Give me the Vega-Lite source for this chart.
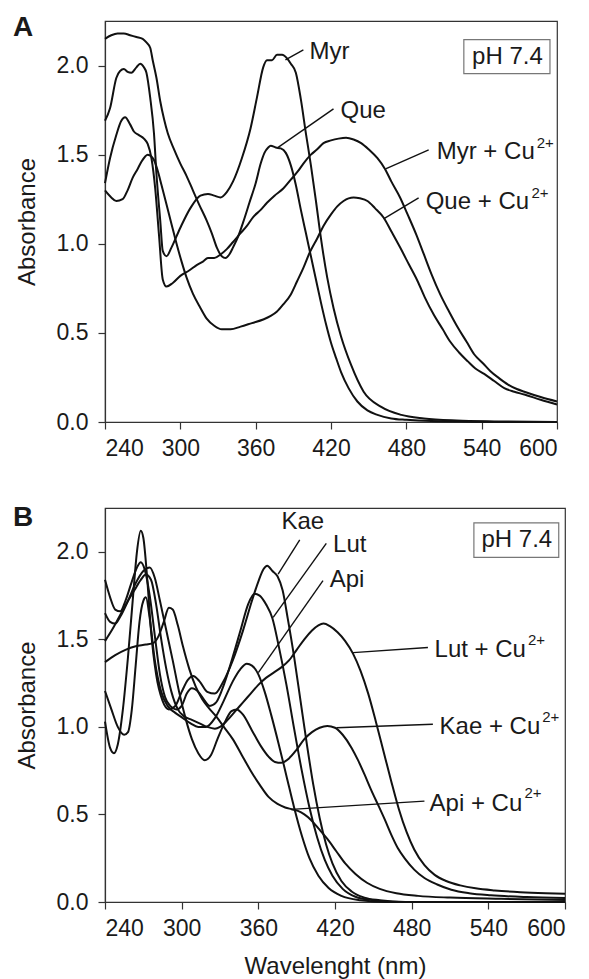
{
  "$schema": "https://vega.github.io/schema/vega-lite/v6.json",
  "padding": {"left": 12, "top": 13, "right": 10, "bottom": 0},
  "bounds": "flush",
  "spacing": 86,
  "config": {
    "font": "Liberation Sans",
    "view": {"stroke": "#333", "strokeWidth": 1.2},
    "axis": {"grid": false, "domainColor": "#333", "tickColor": "#333", "labelColor": "#1a1a1a", "titleColor": "#1a1a1a", "labelFont": "Liberation Sans", "titleFont": "Liberation Sans", "labelFontSize": 23, "titleFontSize": 24, "titleFontWeight": "normal", "tickSize": 7, "domainWidth": 1.2, "tickWidth": 1.2},
    "text": {"font": "Liberation Sans", "fontSize": 24, "color": "#1a1a1a"}
  },
  "datasets": {
    "curvesA": [
      {"s":"Que","nm":240,"abs":2.15},{"s":"Que","nm":245,"abs":2.17},{"s":"Que","nm":250,"abs":2.18},{"s":"Que","nm":255,"abs":2.18},{"s":"Que","nm":260,"abs":2.17},{"s":"Que","nm":265,"abs":2.16},{"s":"Que","nm":270,"abs":2.15},{"s":"Que","nm":273,"abs":2.13},{"s":"Que","nm":276,"abs":2.1},{"s":"Que","nm":278,"abs":2.03},{"s":"Que","nm":281,"abs":1.93},{"s":"Que","nm":284,"abs":1.8},{"s":"Que","nm":287,"abs":1.7},{"s":"Que","nm":290,"abs":1.62},{"s":"Que","nm":295,"abs":1.53},{"s":"Que","nm":300,"abs":1.45},{"s":"Que","nm":305,"abs":1.38},{"s":"Que","nm":310,"abs":1.3},{"s":"Que","nm":315,"abs":1.22},{"s":"Que","nm":321,"abs":1.13},{"s":"Que","nm":325,"abs":1.06},{"s":"Que","nm":329,"abs":0.98},{"s":"Que","nm":333,"abs":0.93},{"s":"Que","nm":336,"abs":0.92},{"s":"Que","nm":339,"abs":0.94},{"s":"Que","nm":342,"abs":0.98},{"s":"Que","nm":346,"abs":1.04},{"s":"Que","nm":350,"abs":1.12},{"s":"Que","nm":355,"abs":1.23},{"s":"Que","nm":360,"abs":1.34},{"s":"Que","nm":364,"abs":1.45},{"s":"Que","nm":367,"abs":1.51},{"s":"Que","nm":370,"abs":1.54},{"s":"Que","nm":372,"abs":1.55},{"s":"Que","nm":376,"abs":1.54},{"s":"Que","nm":380,"abs":1.535},{"s":"Que","nm":384,"abs":1.51},{"s":"Que","nm":388,"abs":1.44},{"s":"Que","nm":392,"abs":1.33},{"s":"Que","nm":396,"abs":1.19},{"s":"Que","nm":400,"abs":1.06},{"s":"Que","nm":404,"abs":0.93},{"s":"Que","nm":408,"abs":0.8},{"s":"Que","nm":412,"abs":0.67},{"s":"Que","nm":416,"abs":0.55},{"s":"Que","nm":420,"abs":0.445},{"s":"Que","nm":424,"abs":0.36},{"s":"Que","nm":428,"abs":0.28},{"s":"Que","nm":434,"abs":0.19},{"s":"Que","nm":441,"abs":0.115},{"s":"Que","nm":449,"abs":0.065},{"s":"Que","nm":457,"abs":0.04},{"s":"Que","nm":468,"abs":0.02},{"s":"Que","nm":480,"abs":0.012},{"s":"Que","nm":500,"abs":0.005},{"s":"Que","nm":530,"abs":0.002},{"s":"Que","nm":560,"abs":0.0},{"s":"Que","nm":600,"abs":0.0},
      {"s":"Myr","nm":240,"abs":1.69},{"s":"Myr","nm":244,"abs":1.76},{"s":"Myr","nm":249,"abs":1.93},{"s":"Myr","nm":252,"abs":1.97},{"s":"Myr","nm":255,"abs":1.98},{"s":"Myr","nm":258,"abs":1.965},{"s":"Myr","nm":261,"abs":1.96},{"s":"Myr","nm":265,"abs":1.99},{"s":"Myr","nm":268,"abs":2.01},{"s":"Myr","nm":271,"abs":1.99},{"s":"Myr","nm":273,"abs":1.96},{"s":"Myr","nm":276,"abs":1.82},{"s":"Myr","nm":279,"abs":1.62},{"s":"Myr","nm":281,"abs":1.39},{"s":"Myr","nm":284,"abs":1.13},{"s":"Myr","nm":286,"abs":0.96},{"s":"Myr","nm":289,"abs":0.93},{"s":"Myr","nm":293,"abs":0.98},{"s":"Myr","nm":300,"abs":1.09},{"s":"Myr","nm":308,"abs":1.2},{"s":"Myr","nm":316,"abs":1.27},{"s":"Myr","nm":322,"abs":1.28},{"s":"Myr","nm":327,"abs":1.27},{"s":"Myr","nm":332,"abs":1.26},{"s":"Myr","nm":337,"abs":1.29},{"s":"Myr","nm":342,"abs":1.35},{"s":"Myr","nm":349,"abs":1.48},{"s":"Myr","nm":356,"abs":1.65},{"s":"Myr","nm":361,"abs":1.82},{"s":"Myr","nm":366,"abs":1.99},{"s":"Myr","nm":369,"abs":2.03},{"s":"Myr","nm":373,"abs":2.03},{"s":"Myr","nm":377,"abs":2.06},{"s":"Myr","nm":381,"abs":2.06},{"s":"Myr","nm":385,"abs":2.04},{"s":"Myr","nm":388,"abs":2.01},{"s":"Myr","nm":392,"abs":1.96},{"s":"Myr","nm":396,"abs":1.81},{"s":"Myr","nm":400,"abs":1.62},{"s":"Myr","nm":404,"abs":1.44},{"s":"Myr","nm":408,"abs":1.24},{"s":"Myr","nm":412,"abs":1.03},{"s":"Myr","nm":417,"abs":0.81},{"s":"Myr","nm":422,"abs":0.64},{"s":"Myr","nm":428,"abs":0.48},{"s":"Myr","nm":436,"abs":0.32},{"s":"Myr","nm":446,"abs":0.17},{"s":"Myr","nm":460,"abs":0.085},{"s":"Myr","nm":476,"abs":0.04},{"s":"Myr","nm":494,"abs":0.02},{"s":"Myr","nm":520,"abs":0.008},{"s":"Myr","nm":550,"abs":0.003},{"s":"Myr","nm":600,"abs":0.0},
      {"s":"MyrCu","nm":240,"abs":1.34},{"s":"MyrCu","nm":244,"abs":1.48},{"s":"MyrCu","nm":249,"abs":1.61},{"s":"MyrCu","nm":253,"abs":1.69},{"s":"MyrCu","nm":256,"abs":1.71},{"s":"MyrCu","nm":260,"abs":1.67},{"s":"MyrCu","nm":263,"abs":1.63},{"s":"MyrCu","nm":267,"abs":1.61},{"s":"MyrCu","nm":271,"abs":1.59},{"s":"MyrCu","nm":274,"abs":1.56},{"s":"MyrCu","nm":277,"abs":1.48},{"s":"MyrCu","nm":280,"abs":1.31},{"s":"MyrCu","nm":283,"abs":1.05},{"s":"MyrCu","nm":286,"abs":0.8},{"s":"MyrCu","nm":289,"abs":0.76},{"s":"MyrCu","nm":294,"abs":0.78},{"s":"MyrCu","nm":300,"abs":0.82},{"s":"MyrCu","nm":307,"abs":0.85},{"s":"MyrCu","nm":313,"abs":0.88},{"s":"MyrCu","nm":318,"abs":0.9},{"s":"MyrCu","nm":322,"abs":0.92},{"s":"MyrCu","nm":327,"abs":0.92},{"s":"MyrCu","nm":332,"abs":0.94},{"s":"MyrCu","nm":337,"abs":0.97},{"s":"MyrCu","nm":342,"abs":1.01},{"s":"MyrCu","nm":348,"abs":1.06},{"s":"MyrCu","nm":353,"abs":1.1},{"s":"MyrCu","nm":358,"abs":1.15},{"s":"MyrCu","nm":364,"abs":1.19},{"s":"MyrCu","nm":369,"abs":1.23},{"s":"MyrCu","nm":375,"abs":1.27},{"s":"MyrCu","nm":382,"abs":1.31},{"s":"MyrCu","nm":388,"abs":1.36},{"s":"MyrCu","nm":394,"abs":1.41},{"s":"MyrCu","nm":398,"abs":1.45},{"s":"MyrCu","nm":404,"abs":1.5},{"s":"MyrCu","nm":409,"abs":1.53},{"s":"MyrCu","nm":414,"abs":1.565},{"s":"MyrCu","nm":420,"abs":1.58},{"s":"MyrCu","nm":426,"abs":1.59},{"s":"MyrCu","nm":432,"abs":1.595},{"s":"MyrCu","nm":438,"abs":1.585},{"s":"MyrCu","nm":444,"abs":1.565},{"s":"MyrCu","nm":450,"abs":1.53},{"s":"MyrCu","nm":457,"abs":1.48},{"s":"MyrCu","nm":463,"abs":1.42},{"s":"MyrCu","nm":468,"abs":1.35},{"s":"MyrCu","nm":475,"abs":1.26},{"s":"MyrCu","nm":481,"abs":1.165},{"s":"MyrCu","nm":488,"abs":1.05},{"s":"MyrCu","nm":494,"abs":0.94},{"s":"MyrCu","nm":500,"abs":0.83},{"s":"MyrCu","nm":507,"abs":0.716},{"s":"MyrCu","nm":514,"abs":0.62},{"s":"MyrCu","nm":521,"abs":0.53},{"s":"MyrCu","nm":528,"abs":0.45},{"s":"MyrCu","nm":534,"abs":0.38},{"s":"MyrCu","nm":541,"abs":0.33},{"s":"MyrCu","nm":547,"abs":0.285},{"s":"MyrCu","nm":554,"abs":0.245},{"s":"MyrCu","nm":561,"abs":0.21},{"s":"MyrCu","nm":568,"abs":0.185},{"s":"MyrCu","nm":574,"abs":0.17},{"s":"MyrCu","nm":587,"abs":0.14},{"s":"MyrCu","nm":600,"abs":0.115},
      {"s":"QueCu","nm":240,"abs":1.3},{"s":"QueCu","nm":245,"abs":1.26},{"s":"QueCu","nm":249,"abs":1.24},{"s":"QueCu","nm":254,"abs":1.25},{"s":"QueCu","nm":258,"abs":1.3},{"s":"QueCu","nm":262,"abs":1.37},{"s":"QueCu","nm":266,"abs":1.42},{"s":"QueCu","nm":269,"abs":1.46},{"s":"QueCu","nm":272,"abs":1.49},{"s":"QueCu","nm":274,"abs":1.5},{"s":"QueCu","nm":277,"abs":1.49},{"s":"QueCu","nm":279,"abs":1.47},{"s":"QueCu","nm":282,"abs":1.41},{"s":"QueCu","nm":285,"abs":1.33},{"s":"QueCu","nm":289,"abs":1.22},{"s":"QueCu","nm":293,"abs":1.11},{"s":"QueCu","nm":297,"abs":1.0},{"s":"QueCu","nm":301,"abs":0.9},{"s":"QueCu","nm":305,"abs":0.81},{"s":"QueCu","nm":310,"abs":0.72},{"s":"QueCu","nm":316,"abs":0.64},{"s":"QueCu","nm":321,"abs":0.58},{"s":"QueCu","nm":327,"abs":0.54},{"s":"QueCu","nm":333,"abs":0.52},{"s":"QueCu","nm":340,"abs":0.52},{"s":"QueCu","nm":348,"abs":0.535},{"s":"QueCu","nm":357,"abs":0.555},{"s":"QueCu","nm":366,"abs":0.575},{"s":"QueCu","nm":372,"abs":0.595},{"s":"QueCu","nm":377,"abs":0.62},{"s":"QueCu","nm":382,"abs":0.66},{"s":"QueCu","nm":388,"abs":0.716},{"s":"QueCu","nm":393,"abs":0.79},{"s":"QueCu","nm":398,"abs":0.865},{"s":"QueCu","nm":403,"abs":0.95},{"s":"QueCu","nm":409,"abs":1.03},{"s":"QueCu","nm":414,"abs":1.1},{"s":"QueCu","nm":420,"abs":1.165},{"s":"QueCu","nm":425,"abs":1.21},{"s":"QueCu","nm":430,"abs":1.24},{"s":"QueCu","nm":434,"abs":1.255},{"s":"QueCu","nm":438,"abs":1.26},{"s":"QueCu","nm":443,"abs":1.255},{"s":"QueCu","nm":449,"abs":1.24},{"s":"QueCu","nm":455,"abs":1.2},{"s":"QueCu","nm":462,"abs":1.146},{"s":"QueCu","nm":468,"abs":1.07},{"s":"QueCu","nm":475,"abs":0.98},{"s":"QueCu","nm":482,"abs":0.885},{"s":"QueCu","nm":489,"abs":0.79},{"s":"QueCu","nm":495,"abs":0.695},{"s":"QueCu","nm":502,"abs":0.6},{"s":"QueCu","nm":509,"abs":0.52},{"s":"QueCu","nm":515,"abs":0.45},{"s":"QueCu","nm":522,"abs":0.39},{"s":"QueCu","nm":529,"abs":0.34},{"s":"QueCu","nm":535,"abs":0.3},{"s":"QueCu","nm":542,"abs":0.27},{"s":"QueCu","nm":550,"abs":0.23},{"s":"QueCu","nm":558,"abs":0.19},{"s":"QueCu","nm":566,"abs":0.17},{"s":"QueCu","nm":574,"abs":0.154},{"s":"QueCu","nm":587,"abs":0.125},{"s":"QueCu","nm":600,"abs":0.098}
    ],
    "curvesB": [
      {"s":"Kae","nm":240,"abs":1.03},{"s":"Kae","nm":244,"abs":0.88},{"s":"Kae","nm":247,"abs":0.85},{"s":"Kae","nm":250,"abs":0.9},{"s":"Kae","nm":254,"abs":1.1},{"s":"Kae","nm":258,"abs":1.4},{"s":"Kae","nm":262,"abs":1.75},{"s":"Kae","nm":265,"abs":2.0},{"s":"Kae","nm":268,"abs":2.12},{"s":"Kae","nm":270,"abs":2.08},{"s":"Kae","nm":273,"abs":1.85},{"s":"Kae","nm":276,"abs":1.55},{"s":"Kae","nm":280,"abs":1.3},{"s":"Kae","nm":285,"abs":1.15},{"s":"Kae","nm":290,"abs":1.1},{"s":"Kae","nm":295,"abs":1.12},{"s":"Kae","nm":300,"abs":1.2},{"s":"Kae","nm":305,"abs":1.27},{"s":"Kae","nm":309,"abs":1.29},{"s":"Kae","nm":314,"abs":1.26},{"s":"Kae","nm":320,"abs":1.2},{"s":"Kae","nm":326,"abs":1.19},{"s":"Kae","nm":332,"abs":1.25},{"s":"Kae","nm":340,"abs":1.38},{"s":"Kae","nm":348,"abs":1.55},{"s":"Kae","nm":355,"abs":1.72},{"s":"Kae","nm":360,"abs":1.83},{"s":"Kae","nm":364,"abs":1.9},{"s":"Kae","nm":367,"abs":1.92},{"s":"Kae","nm":371,"abs":1.89},{"s":"Kae","nm":375,"abs":1.86},{"s":"Kae","nm":379,"abs":1.78},{"s":"Kae","nm":383,"abs":1.62},{"s":"Kae","nm":388,"abs":1.4},{"s":"Kae","nm":393,"abs":1.15},{"s":"Kae","nm":398,"abs":0.9},{"s":"Kae","nm":403,"abs":0.67},{"s":"Kae","nm":408,"abs":0.48},{"s":"Kae","nm":413,"abs":0.33},{"s":"Kae","nm":418,"abs":0.22},{"s":"Kae","nm":425,"abs":0.12},{"s":"Kae","nm":433,"abs":0.06},{"s":"Kae","nm":443,"abs":0.025},{"s":"Kae","nm":455,"abs":0.01},{"s":"Kae","nm":475,"abs":0.0},{"s":"Kae","nm":600,"abs":0.0},
      {"s":"Lut","nm":240,"abs":1.84},{"s":"Lut","nm":244,"abs":1.74},{"s":"Lut","nm":248,"abs":1.67},{"s":"Lut","nm":252,"abs":1.66},{"s":"Lut","nm":256,"abs":1.72},{"s":"Lut","nm":261,"abs":1.83},{"s":"Lut","nm":265,"abs":1.91},{"s":"Lut","nm":268,"abs":1.94},{"s":"Lut","nm":271,"abs":1.9},{"s":"Lut","nm":275,"abs":1.75},{"s":"Lut","nm":279,"abs":1.52},{"s":"Lut","nm":283,"abs":1.3},{"s":"Lut","nm":287,"abs":1.17},{"s":"Lut","nm":291,"abs":1.12},{"s":"Lut","nm":296,"abs":1.1},{"s":"Lut","nm":300,"abs":1.12},{"s":"Lut","nm":304,"abs":1.19},{"s":"Lut","nm":308,"abs":1.22},{"s":"Lut","nm":313,"abs":1.2},{"s":"Lut","nm":318,"abs":1.15},{"s":"Lut","nm":322,"abs":1.12},{"s":"Lut","nm":327,"abs":1.14},{"s":"Lut","nm":333,"abs":1.24},{"s":"Lut","nm":340,"abs":1.4},{"s":"Lut","nm":346,"abs":1.55},{"s":"Lut","nm":352,"abs":1.7},{"s":"Lut","nm":357,"abs":1.76},{"s":"Lut","nm":361,"abs":1.75},{"s":"Lut","nm":366,"abs":1.7},{"s":"Lut","nm":371,"abs":1.62},{"s":"Lut","nm":376,"abs":1.46},{"s":"Lut","nm":382,"abs":1.24},{"s":"Lut","nm":388,"abs":0.99},{"s":"Lut","nm":394,"abs":0.75},{"s":"Lut","nm":400,"abs":0.54},{"s":"Lut","nm":406,"abs":0.37},{"s":"Lut","nm":412,"abs":0.24},{"s":"Lut","nm":418,"abs":0.15},{"s":"Lut","nm":426,"abs":0.075},{"s":"Lut","nm":436,"abs":0.03},{"s":"Lut","nm":450,"abs":0.01},{"s":"Lut","nm":470,"abs":0.0},{"s":"Lut","nm":600,"abs":0.0},
      {"s":"Api","nm":240,"abs":1.205},{"s":"Api","nm":245,"abs":1.1},{"s":"Api","nm":250,"abs":1.0},{"s":"Api","nm":255,"abs":0.955},{"s":"Api","nm":258,"abs":0.97},{"s":"Api","nm":261,"abs":1.1},{"s":"Api","nm":264,"abs":1.35},{"s":"Api","nm":267,"abs":1.6},{"s":"Api","nm":270,"abs":1.72},{"s":"Api","nm":272,"abs":1.74},{"s":"Api","nm":275,"abs":1.62},{"s":"Api","nm":279,"abs":1.38},{"s":"Api","nm":284,"abs":1.2},{"s":"Api","nm":289,"abs":1.12},{"s":"Api","nm":295,"abs":1.08},{"s":"Api","nm":301,"abs":1.05},{"s":"Api","nm":307,"abs":1.02},{"s":"Api","nm":313,"abs":1.0},{"s":"Api","nm":319,"abs":1.0},{"s":"Api","nm":326,"abs":1.05},{"s":"Api","nm":333,"abs":1.15},{"s":"Api","nm":340,"abs":1.26},{"s":"Api","nm":346,"abs":1.33},{"s":"Api","nm":351,"abs":1.36},{"s":"Api","nm":355,"abs":1.35},{"s":"Api","nm":360,"abs":1.3},{"s":"Api","nm":365,"abs":1.2},{"s":"Api","nm":370,"abs":1.07},{"s":"Api","nm":376,"abs":0.9},{"s":"Api","nm":382,"abs":0.72},{"s":"Api","nm":388,"abs":0.54},{"s":"Api","nm":394,"abs":0.38},{"s":"Api","nm":400,"abs":0.25},{"s":"Api","nm":407,"abs":0.15},{"s":"Api","nm":415,"abs":0.08},{"s":"Api","nm":425,"abs":0.035},{"s":"Api","nm":440,"abs":0.01},{"s":"Api","nm":460,"abs":0.0},{"s":"Api","nm":600,"abs":0.0},
      {"s":"LutCu","nm":240,"abs":1.49},{"s":"LutCu","nm":246,"abs":1.56},{"s":"LutCu","nm":252,"abs":1.64},{"s":"LutCu","nm":258,"abs":1.72},{"s":"LutCu","nm":263,"abs":1.78},{"s":"LutCu","nm":268,"abs":1.84},{"s":"LutCu","nm":272,"abs":1.87},{"s":"LutCu","nm":276,"abs":1.84},{"s":"LutCu","nm":280,"abs":1.7},{"s":"LutCu","nm":284,"abs":1.5},{"s":"LutCu","nm":288,"abs":1.33},{"s":"LutCu","nm":292,"abs":1.2},{"s":"LutCu","nm":297,"abs":1.1},{"s":"LutCu","nm":302,"abs":1.06},{"s":"LutCu","nm":308,"abs":1.04},{"s":"LutCu","nm":314,"abs":1.02},{"s":"LutCu","nm":320,"abs":1.0},{"s":"LutCu","nm":326,"abs":0.99},{"s":"LutCu","nm":330,"abs":1.0},{"s":"LutCu","nm":336,"abs":1.04},{"s":"LutCu","nm":342,"abs":1.09},{"s":"LutCu","nm":348,"abs":1.14},{"s":"LutCu","nm":354,"abs":1.19},{"s":"LutCu","nm":360,"abs":1.24},{"s":"LutCu","nm":366,"abs":1.28},{"s":"LutCu","nm":372,"abs":1.31},{"s":"LutCu","nm":378,"abs":1.34},{"s":"LutCu","nm":384,"abs":1.38},{"s":"LutCu","nm":390,"abs":1.44},{"s":"LutCu","nm":396,"abs":1.5},{"s":"LutCu","nm":402,"abs":1.55},{"s":"LutCu","nm":407,"abs":1.58},{"s":"LutCu","nm":411,"abs":1.59},{"s":"LutCu","nm":416,"abs":1.575},{"s":"LutCu","nm":422,"abs":1.54},{"s":"LutCu","nm":428,"abs":1.49},{"s":"LutCu","nm":434,"abs":1.42},{"s":"LutCu","nm":440,"abs":1.32},{"s":"LutCu","nm":446,"abs":1.19},{"s":"LutCu","nm":452,"abs":1.03},{"s":"LutCu","nm":458,"abs":0.86},{"s":"LutCu","nm":464,"abs":0.69},{"s":"LutCu","nm":470,"abs":0.53},{"s":"LutCu","nm":476,"abs":0.4},{"s":"LutCu","nm":482,"abs":0.3},{"s":"LutCu","nm":490,"abs":0.21},{"s":"LutCu","nm":498,"abs":0.155},{"s":"LutCu","nm":507,"abs":0.12},{"s":"LutCu","nm":518,"abs":0.095},{"s":"LutCu","nm":530,"abs":0.078},{"s":"LutCu","nm":545,"abs":0.066},{"s":"LutCu","nm":565,"abs":0.056},{"s":"LutCu","nm":585,"abs":0.05},{"s":"LutCu","nm":600,"abs":0.047},
      {"s":"KaeCu","nm":240,"abs":1.65},{"s":"KaeCu","nm":244,"abs":1.6},{"s":"KaeCu","nm":248,"abs":1.59},{"s":"KaeCu","nm":252,"abs":1.63},{"s":"KaeCu","nm":258,"abs":1.72},{"s":"KaeCu","nm":264,"abs":1.82},{"s":"KaeCu","nm":270,"abs":1.89},{"s":"KaeCu","nm":275,"abs":1.91},{"s":"KaeCu","nm":279,"abs":1.85},{"s":"KaeCu","nm":283,"abs":1.72},{"s":"KaeCu","nm":288,"abs":1.55},{"s":"KaeCu","nm":293,"abs":1.38},{"s":"KaeCu","nm":298,"abs":1.2},{"s":"KaeCu","nm":303,"abs":1.05},{"s":"KaeCu","nm":308,"abs":0.93},{"s":"KaeCu","nm":313,"abs":0.85},{"s":"KaeCu","nm":318,"abs":0.81},{"s":"KaeCu","nm":323,"abs":0.84},{"s":"KaeCu","nm":328,"abs":0.93},{"s":"KaeCu","nm":334,"abs":1.03},{"s":"KaeCu","nm":339,"abs":1.09},{"s":"KaeCu","nm":343,"abs":1.1},{"s":"KaeCu","nm":348,"abs":1.07},{"s":"KaeCu","nm":355,"abs":0.98},{"s":"KaeCu","nm":362,"abs":0.89},{"s":"KaeCu","nm":368,"abs":0.83},{"s":"KaeCu","nm":373,"abs":0.8},{"s":"KaeCu","nm":378,"abs":0.795},{"s":"KaeCu","nm":384,"abs":0.82},{"s":"KaeCu","nm":390,"abs":0.87},{"s":"KaeCu","nm":396,"abs":0.93},{"s":"KaeCu","nm":402,"abs":0.97},{"s":"KaeCu","nm":408,"abs":0.995},{"s":"KaeCu","nm":414,"abs":1.005},{"s":"KaeCu","nm":420,"abs":0.995},{"s":"KaeCu","nm":426,"abs":0.955},{"s":"KaeCu","nm":433,"abs":0.88},{"s":"KaeCu","nm":438,"abs":0.81},{"s":"KaeCu","nm":443,"abs":0.73},{"s":"KaeCu","nm":448,"abs":0.645},{"s":"KaeCu","nm":454,"abs":0.55},{"s":"KaeCu","nm":459,"abs":0.47},{"s":"KaeCu","nm":464,"abs":0.385},{"s":"KaeCu","nm":469,"abs":0.31},{"s":"KaeCu","nm":475,"abs":0.245},{"s":"KaeCu","nm":482,"abs":0.185},{"s":"KaeCu","nm":490,"abs":0.137},{"s":"KaeCu","nm":500,"abs":0.1},{"s":"KaeCu","nm":511,"abs":0.07},{"s":"KaeCu","nm":525,"abs":0.05},{"s":"KaeCu","nm":542,"abs":0.038},{"s":"KaeCu","nm":570,"abs":0.028},{"s":"KaeCu","nm":600,"abs":0.023},
      {"s":"ApiCu","nm":240,"abs":1.37},{"s":"ApiCu","nm":248,"abs":1.41},{"s":"ApiCu","nm":256,"abs":1.44},{"s":"ApiCu","nm":264,"abs":1.46},{"s":"ApiCu","nm":272,"abs":1.47},{"s":"ApiCu","nm":278,"abs":1.48},{"s":"ApiCu","nm":282,"abs":1.52},{"s":"ApiCu","nm":286,"abs":1.6},{"s":"ApiCu","nm":290,"abs":1.68},{"s":"ApiCu","nm":293,"abs":1.67},{"s":"ApiCu","nm":297,"abs":1.58},{"s":"ApiCu","nm":301,"abs":1.46},{"s":"ApiCu","nm":306,"abs":1.33},{"s":"ApiCu","nm":311,"abs":1.23},{"s":"ApiCu","nm":316,"abs":1.16},{"s":"ApiCu","nm":321,"abs":1.11},{"s":"ApiCu","nm":327,"abs":1.06},{"s":"ApiCu","nm":333,"abs":1.0},{"s":"ApiCu","nm":340,"abs":0.93},{"s":"ApiCu","nm":347,"abs":0.84},{"s":"ApiCu","nm":354,"abs":0.75},{"s":"ApiCu","nm":361,"abs":0.67},{"s":"ApiCu","nm":368,"abs":0.6},{"s":"ApiCu","nm":375,"abs":0.56},{"s":"ApiCu","nm":381,"abs":0.54},{"s":"ApiCu","nm":386,"abs":0.53},{"s":"ApiCu","nm":391,"abs":0.52},{"s":"ApiCu","nm":396,"abs":0.5},{"s":"ApiCu","nm":401,"abs":0.47},{"s":"ApiCu","nm":407,"abs":0.42},{"s":"ApiCu","nm":414,"abs":0.36},{"s":"ApiCu","nm":421,"abs":0.29},{"s":"ApiCu","nm":428,"abs":0.22},{"s":"ApiCu","nm":436,"abs":0.16},{"s":"ApiCu","nm":445,"abs":0.11},{"s":"ApiCu","nm":455,"abs":0.075},{"s":"ApiCu","nm":468,"abs":0.05},{"s":"ApiCu","nm":485,"abs":0.035},{"s":"ApiCu","nm":510,"abs":0.025},{"s":"ApiCu","nm":550,"abs":0.018},{"s":"ApiCu","nm":600,"abs":0.012}
    ],
    "panelA": [{"t":"A","x":166.7,"y":2.166}],
    "panelB": [{"t":"B","x":168.0,"y":2.147}],
    "labelsA": [
      {"t":"Myr","x":402.8,"y":2.077},{"t":"Que","x":427.6,"y":1.745},{"t":"Myr + Cu","x":504.2,"y":1.515},{"t":"Que + Cu","x":495.4,"y":1.234}
    ],
    "supA": [
      {"t":"2+","x":583.8,"y":1.565},{"t":"2+","x":579.6,"y":1.285}
    ],
    "leadersA": [
      {"x":383.7,"y":2.032,"x2":398.0,"y2":2.088},
      {"x":377.3,"y":1.538,"x2":422.0,"y2":1.757},
      {"x":463.5,"y":1.42,"x2":497.8,"y2":1.527},
      {"x":461.9,"y":1.14,"x2":489.8,"y2":1.257}
    ],
    "boxA": [{"x1":525.8,"x2":594.4,"y1":1.955,"y2":2.146,"t":"pH 7.4","xc":560.5,"yc":2.05}],
    "labelsB": [
      {"t":"Kae","x":378.1,"y":2.169},{"t":"Lut","x":418.5,"y":2.04},{"t":"Api","x":415.8,"y":1.838},{"t":"Lut + Cu","x":497.9,"y":1.44},{"t":"Kae + Cu","x":501.8,"y":1.0},{"t":"Api + Cu","x":494.0,"y":0.562}
    ],
    "supB": [
      {"t":"2+","x":571.0,"y":1.495},{"t":"2+","x":582.2,"y":1.055},{"t":"2+","x":568.3,"y":0.62}
    ],
    "leadersB": [
      {"x":375.5,"y":1.873,"x2":392.4,"y2":2.068},
      {"x":371.6,"y":1.625,"x2":413.2,"y2":2.048},
      {"x":360.0,"y":1.31,"x2":410.6,"y2":1.835},
      {"x":434.1,"y":1.424,"x2":492.7,"y2":1.453},
      {"x":421.1,"y":0.995,"x2":496.6,"y2":1.015},
      {"x":385.9,"y":0.529,"x2":490.0,"y2":0.576}
    ],
    "boxB": [{"x1":528.7,"x2":595.1,"y1":1.968,"y2":2.165,"t":"pH 7.4","xc":562.3,"yc":2.065}]
  },
  "vconcat": [
    {
      "width": 452,
      "height": 401,
      "layer": [
        {
          "data": {"name": "curvesA"},
          "mark": {"type": "line", "color": "#111", "strokeWidth": 2, "interpolate": "monotone"},
          "encoding": {
            "x": {"field": "nm", "type": "quantitative", "scale": {"domain": [240, 600], "nice": false, "zero": false}, "axis": {"values": [240, 300, 360, 420, 480, 540, 600], "title": null, "labelPadding": 8}},
            "y": {"field": "abs", "type": "quantitative", "scale": {"domain": [0, 2.25], "nice": false}, "axis": {"values": [0, 0.5, 1, 1.5, 2], "format": ".1f", "title": "Absorbance", "labelPadding": 10, "titlePadding": 17}},
            "detail": {"field": "s"}
          }
        },
        {
          "data": {"name": "leadersA"},
          "mark": {"type": "rule", "color": "#111", "strokeWidth": 1.4},
          "encoding": {"x": {"field": "x", "type": "quantitative"}, "y": {"field": "y", "type": "quantitative"}, "x2": {"field": "x2"}, "y2": {"field": "y2"}}
        },
        {
          "data": {"name": "boxA"},
          "mark": {"type": "rect", "fill": "white", "stroke": "#777", "strokeWidth": 1.2},
          "encoding": {"x": {"field": "x1", "type": "quantitative"}, "x2": {"field": "x2"}, "y": {"field": "y1", "type": "quantitative"}, "y2": {"field": "y2"}}
        },
        {
          "data": {"name": "boxA"},
          "mark": {"type": "text", "align": "center", "baseline": "middle", "fontSize": 24},
          "encoding": {"x": {"field": "xc", "type": "quantitative"}, "y": {"field": "yc", "type": "quantitative"}, "text": {"field": "t"}}
        },
        {
          "data": {"name": "labelsA"},
          "mark": {"type": "text", "align": "left", "baseline": "middle", "fontSize": 24},
          "encoding": {"x": {"field": "x", "type": "quantitative"}, "y": {"field": "y", "type": "quantitative"}, "text": {"field": "t"}}
        },
        {
          "data": {"name": "supA"},
          "mark": {"type": "text", "align": "left", "baseline": "middle", "fontSize": 15},
          "encoding": {"x": {"field": "x", "type": "quantitative"}, "y": {"field": "y", "type": "quantitative"}, "text": {"field": "t"}}
        },
        {
          "data": {"name": "panelA"},
          "mark": {"type": "text", "align": "left", "baseline": "alphabetic", "fontSize": 28, "fontWeight": "bold"},
          "encoding": {"x": {"field": "x", "type": "quantitative"}, "y": {"field": "y", "type": "quantitative"}, "text": {"field": "t"}}
        }
      ]
    },
    {
      "width": 460,
      "height": 394,
      "layer": [
        {
          "data": {"name": "curvesB"},
          "mark": {"type": "line", "color": "#111", "strokeWidth": 2, "interpolate": "monotone"},
          "encoding": {
            "x": {"field": "nm", "type": "quantitative", "scale": {"domain": [240, 600], "nice": false, "zero": false}, "axis": {"values": [240, 300, 360, 420, 480, 540, 600], "title": "Wavelenght (nm)", "labelPadding": 8, "titlePadding": 14}},
            "y": {"field": "abs", "type": "quantitative", "scale": {"domain": [0, 2.25], "nice": false}, "axis": {"values": [0, 0.5, 1, 1.5, 2], "format": ".1f", "title": "Absorbance", "labelPadding": 10, "titlePadding": 17}},
            "detail": {"field": "s"}
          }
        },
        {
          "data": {"name": "leadersB"},
          "mark": {"type": "rule", "color": "#111", "strokeWidth": 1.4},
          "encoding": {"x": {"field": "x", "type": "quantitative"}, "y": {"field": "y", "type": "quantitative"}, "x2": {"field": "x2"}, "y2": {"field": "y2"}}
        },
        {
          "data": {"name": "boxB"},
          "mark": {"type": "rect", "fill": "white", "stroke": "#777", "strokeWidth": 1.2},
          "encoding": {"x": {"field": "x1", "type": "quantitative"}, "x2": {"field": "x2"}, "y": {"field": "y1", "type": "quantitative"}, "y2": {"field": "y2"}}
        },
        {
          "data": {"name": "boxB"},
          "mark": {"type": "text", "align": "center", "baseline": "middle", "fontSize": 24},
          "encoding": {"x": {"field": "xc", "type": "quantitative"}, "y": {"field": "yc", "type": "quantitative"}, "text": {"field": "t"}}
        },
        {
          "data": {"name": "labelsB"},
          "mark": {"type": "text", "align": "left", "baseline": "middle", "fontSize": 24},
          "encoding": {"x": {"field": "x", "type": "quantitative"}, "y": {"field": "y", "type": "quantitative"}, "text": {"field": "t"}}
        },
        {
          "data": {"name": "supB"},
          "mark": {"type": "text", "align": "left", "baseline": "middle", "fontSize": 15},
          "encoding": {"x": {"field": "x", "type": "quantitative"}, "y": {"field": "y", "type": "quantitative"}, "text": {"field": "t"}}
        },
        {
          "data": {"name": "panelB"},
          "mark": {"type": "text", "align": "left", "baseline": "alphabetic", "fontSize": 28, "fontWeight": "bold"},
          "encoding": {"x": {"field": "x", "type": "quantitative"}, "y": {"field": "y", "type": "quantitative"}, "text": {"field": "t"}}
        }
      ]
    }
  ]
}
